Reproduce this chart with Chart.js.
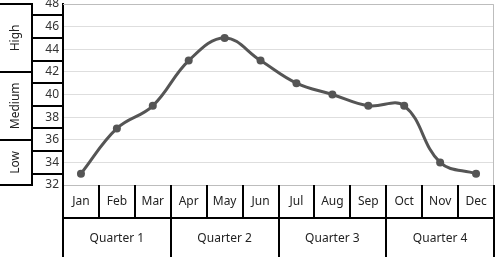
<!DOCTYPE html>
<html>
<head>
<meta charset="utf-8">
<script src="https://cdn.jsdelivr.net/npm/chart.js@4/dist/chart.umd.min.js"></script>
<style>
  html, body { margin: 0; padding: 0; background: #fff; }
  #wrap { width: 500px; height: 257px; position: relative; }
</style>
</head>
<body>
<div id="wrap"><canvas id="chart"></canvas></div>
<script>
const months = ["Jan", "Feb", "Mar", "Apr", "May", "Jun", "Jul", "Aug", "Sep", "Oct", "Nov", "Dec"];
const values = [33, 37, 39, 43, 45, 43, 41, 40, 39, 39, 34, 33];
const quarters = ["Quarter 1", "Quarter 2", "Quarter 3", "Quarter 4"];
const quarterSpan = [3, 3, 3, 3];
const levelLabels = ["Low", "Medium", "High"];
const levelFrom = [32, 36, 42];
const levelTo = [36, 42, 48];
const yMin = 32, yMax = 48, yStep = 2;

const FONT = "'Noto Sans', sans-serif";

// draws the multi level labels + frame lines around the plot
const multiLevel = {
  id: "multiLevel",
  afterDraw(chart) {
    const { ctx, chartArea: a, scales: { x, y } } = chart;
    const H = chart.height;
    const groupX = 32;
    const rowH = 33;
    ctx.save();

    // plot border top / right
    ctx.strokeStyle = "#bdbdbd";
    ctx.lineWidth = 1;
    ctx.beginPath();
    ctx.moveTo(a.left, a.top + 0.5);
    ctx.lineTo(a.right - 0.5, a.top + 0.5);
    ctx.lineTo(a.right - 0.5, a.bottom);
    ctx.stroke();

    ctx.strokeStyle = "#000";
    ctx.lineWidth = 2;
    ctx.beginPath();
    // y tick cells, lines halfway between ticks
    for (let i = 1; i < y.ticks.length; i++) {
      const py = Math.round(y.getPixelForValue((y.ticks[i].value + y.ticks[i - 1].value) / 2));
      ctx.moveTo(groupX, py);
      ctx.lineTo(a.left, py);
    }
    ctx.moveTo(groupX, a.top);
    ctx.lineTo(groupX, a.bottom);
    // y group boundaries
    const bounds = new Set(levelFrom.concat(levelTo));
    bounds.forEach(v => {
      const py = Math.round(y.getPixelForValue(v));
      ctx.moveTo(0, py);
      ctx.lineTo(groupX + 1, py);
    });

    // month cells
    for (let i = 0; i <= months.length; i++) {
      const px = Math.round(x.getPixelForValue(i - 0.5));
      ctx.moveTo(px, a.bottom);
      ctx.lineTo(px, a.bottom + rowH);
    }
    ctx.moveTo(a.left, a.bottom + rowH);
    ctx.lineTo(a.right, a.bottom + rowH);
    // quarter cells
    let start = 0;
    const qEdges = [0];
    quarterSpan.forEach(s => { start += s; qEdges.push(start); });
    qEdges.forEach(k => {
      const px = Math.round(x.getPixelForValue(k - 0.5));
      ctx.moveTo(px, a.bottom);
      ctx.lineTo(px, H);
    });
    ctx.stroke();

    // labels
    ctx.fillStyle = "#222";
    ctx.font = "12px " + FONT;
    ctx.textAlign = "center";
    ctx.textBaseline = "middle";
    for (let q = 0; q < quarters.length; q++) {
      const x0 = x.getPixelForValue(qEdges[q] - 0.5);
      const x1 = x.getPixelForValue(qEdges[q + 1] - 0.5);
      ctx.fillText(quarters[q], (x0 + x1) / 2, (a.bottom + rowH + H) / 2 + 1);
    }
    for (let i = 0; i < levelLabels.length; i++) {
      const y0 = y.getPixelForValue(levelFrom[i]);
      const y1 = y.getPixelForValue(levelTo[i]);
      ctx.save();
      ctx.translate(groupX / 2, (y0 + y1) / 2);
      ctx.rotate(-Math.PI / 2);
      ctx.fillText(levelLabels[i], 0, 0);
      ctx.restore();
    }
    ctx.restore();
  }
};

new Chart(document.getElementById("chart"), {
  type: "line",
  data: {
    labels: months,
    datasets: [
      {
        data: values,
        borderColor: "#555",
        borderWidth: 3,
        tension: 0.4,
        pointRadius: 4,
        pointHoverRadius: 4,
        pointBackgroundColor: "#555",
        pointBorderWidth: 0,
        clip: false,
      },
    ],
  },
  options: {
    responsive: true,
    maintainAspectRatio: false,
    animation: false,
    layout: { padding: { top: 4, right: 6, left: 0, bottom: 0 } },
    plugins: { legend: { display: false }, tooltip: { enabled: false } },
    scales: {
      x: {
        offset: true,
        grid: { display: false, drawTicks: false },
        border: { color: "#bdbdbd", width: 1 },
        ticks: { color: "#222", font: { family: FONT, size: 12 }, padding: 9, maxRotation: 0, autoSkip: false },
        afterFit(scale) {
          scale.height = 72;
          scale.paddingLeft = 0;
          scale.paddingRight = 0;
        },
      },
      y: {
        min: yMin,
        max: yMax,
        ticks: { stepSize: yStep, color: "#333", font: { family: FONT, size: 12 }, padding: 4 },
        grid: { color: "#dedede", drawTicks: false },
        border: { color: "#000", width: 2 },
        afterFit(scale) {
          scale.width = 63;
          scale.paddingTop = 0;
          scale.paddingBottom = 0;
        },
      },
    },
  },
  plugins: [multiLevel],
});
</script>
</body>
</html>
